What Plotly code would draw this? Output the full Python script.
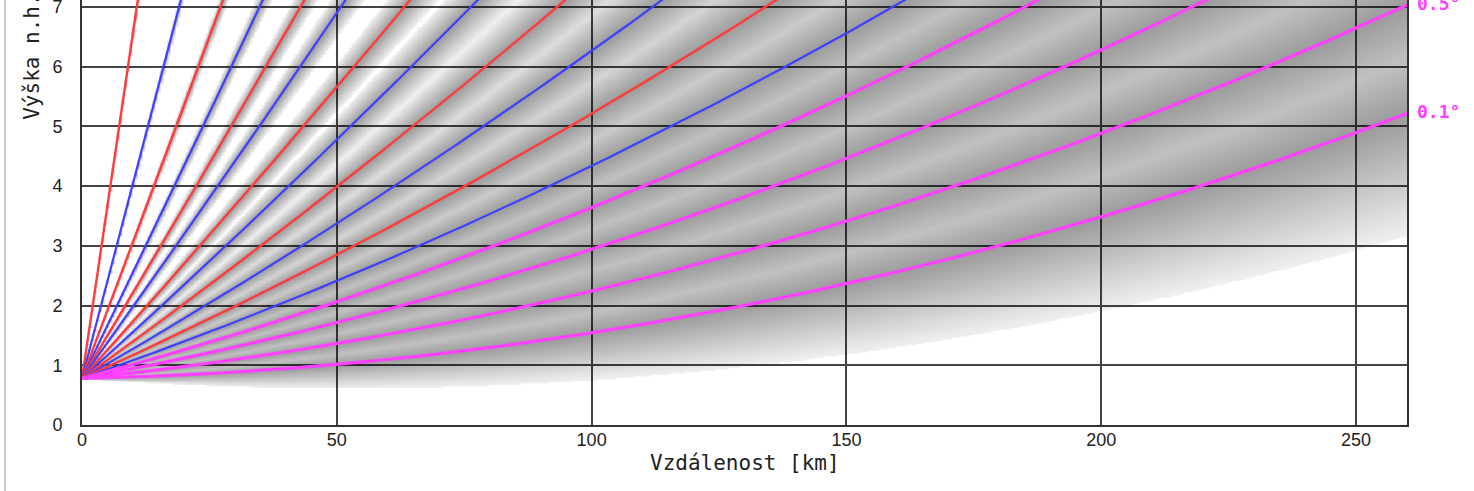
import numpy as np
import plotly.graph_objects as go

# ---- data ----
elev_magenta = [0.1, 0.5, 0.9, 1.3]              # lowest beams (deg)
elev_blue = [1.7, 2.8, 4.4, 6.8, 10.0, 18.0]     # deg
elev_red = [2.2, 3.5, 5.4, 8.1, 12.8, 30.0]      # deg
radar_alt_km = 0.78                               # antenna height a.s.l. [km]
labeled_beams = ["0.1°", "0.5°"]
x_ticks = [0, 50, 100, 150, 200, 250]
y_ticks = [0, 1, 2, 3, 4, 5, 6, 7]
x_title = "Vzdálenost [km]"
y_title = "Výška n.h.m. [km]"

X_MAX = 260.0
Y_MAX = 7.117
RE = 4.0 / 3.0 * 6371.0      # effective earth radius (4/3 model)
HALF_BW = 0.45               # half beam width (deg) used for shading

C_MAG = "rgb(255,64,255)"
C_BLUE = "rgb(64,64,255)"
C_RED = "rgb(255,60,60)"


def beam_path(theta_deg, h0):
    th = np.radians(theta_deg)
    r = np.linspace(0, 300, 900)
    R0 = RE + h0
    h = np.sqrt(r ** 2 + R0 ** 2 + 2 * r * R0 * np.sin(th)) - RE
    s = RE * np.arcsin(r * np.cos(th) / (RE + h))
    keep = (s <= X_MAX + 2) & (h <= Y_MAX + 1)
    return s[keep], h[keep]


beams = ([(e, C_MAG, 3.2) for e in elev_magenta]
         + [(e, C_BLUE, 2.2) for e in elev_blue]
         + [(e, C_RED, 2.4) for e in elev_red])
all_elev = np.array(sorted(b[0] for b in beams))

# ---- background shading (beam width), computed on a grid ----
gx = np.linspace(0, X_MAX, 521)
gy = np.linspace(0, Y_MAX, 300)
S, H = np.meshgrid(gx, gy)
alpha = S / RE
R0 = RE + radar_alt_km
phi = np.degrees(np.arctan2((RE + H) * np.cos(alpha) - R0, (RE + H) * np.sin(alpha) + 1e-9))
dark = np.zeros_like(phi)
for e in all_elev:
    d = np.abs(phi - e)
    v = np.where(d <= HALF_BW, 0.39 * (1 - 0.85 * d / HALF_BW), 0.0)
    dark = np.maximum(dark, v)

fig = go.Figure()
fig.add_trace(go.Heatmap(
    x=gx, y=gy, z=np.round(dark, 3),
    colorscale=[[0, "rgba(0,0,0,0)"], [1, "rgba(0,0,0,1)"]],
    zmin=0, zmax=1, showscale=False, zsmooth="best", hoverinfo="skip"))

for e, col, w in sorted(beams, key=lambda b: -b[0]):
    s, h = beam_path(e, radar_alt_km)
    fig.add_trace(go.Scatter(x=s, y=h, mode="lines",
                             line=dict(color=col, width=w),
                             hoverinfo="skip", showlegend=False))

annotations = []
for lab in labeled_beams:
    e = float(lab.rstrip("°"))
    s, h = beam_path(e, radar_alt_km)
    hy = float(np.interp(X_MAX, s, h))
    annotations.append(dict(x=X_MAX, y=hy, xref="x", yref="y", text=lab,
                            showarrow=False, xanchor="left", yanchor="middle",
                            xshift=8, yshift=2,
                            font=dict(family="DejaVu Sans Mono", size=18, color="rgb(255,64,255)",
                                      weight="bold")))

annotations.append(dict(x=0.5, y=(425 - 463) / 425.0, xref="paper", yref="paper", text=x_title,
                        showarrow=False, xanchor="center", yanchor="middle",
                        font=dict(family="DejaVu Sans Mono", size=21, color="#222")))
annotations.append(dict(x=-0.0377, y=0.97, xref="paper", yref="paper", text=y_title,
                        showarrow=False, xanchor="center", yanchor="middle", textangle=-90,
                        font=dict(family="DejaVu Sans Mono", size=21, color="#222")))

fig.update_layout(
    width=1474, height=491,
    margin=dict(l=82, r=67, t=0, b=66, autoexpand=False),
    paper_bgcolor="white", plot_bgcolor="white",
    showlegend=False,
    annotations=annotations,
    shapes=[dict(type="line", xref="paper", yref="paper",
                 x0=(5 - 82) / 1325.0, x1=(5 - 82) / 1325.0, y0=-66 / 425.0, y1=1.0,
                 line=dict(color="#cccccc", width=2))],
)
fig.update_xaxes(range=[0, X_MAX], tickvals=x_ticks, ticktext=[str(v) for v in x_ticks],
                 showgrid=True, gridcolor="#444", gridwidth=2, zeroline=False,
                 showline=True, linecolor="#333", linewidth=2, mirror=True,
                 ticks="", ticklabelstandoff=-3, automargin=False, ticklabeloverflow="allow",
                 tickfont=dict(family="Liberation Sans", size=18, color="#222"))
fig.update_yaxes(range=[0, Y_MAX], tickvals=y_ticks, ticktext=[str(v) for v in y_ticks],
                 showgrid=True, gridcolor="#444", gridwidth=2, zeroline=False,
                 showline=True, linecolor="#333", linewidth=2, mirror=True,
                 ticks="", ticklabelstandoff=14, automargin=False, ticklabeloverflow="allow",
                 tickfont=dict(family="Liberation Sans", size=18, color="#222"))

fig.write_html("out.html", config={"displayModeBar": False},
               post_script="document.body.style.margin='0';document.body.style.overflow='hidden';")
